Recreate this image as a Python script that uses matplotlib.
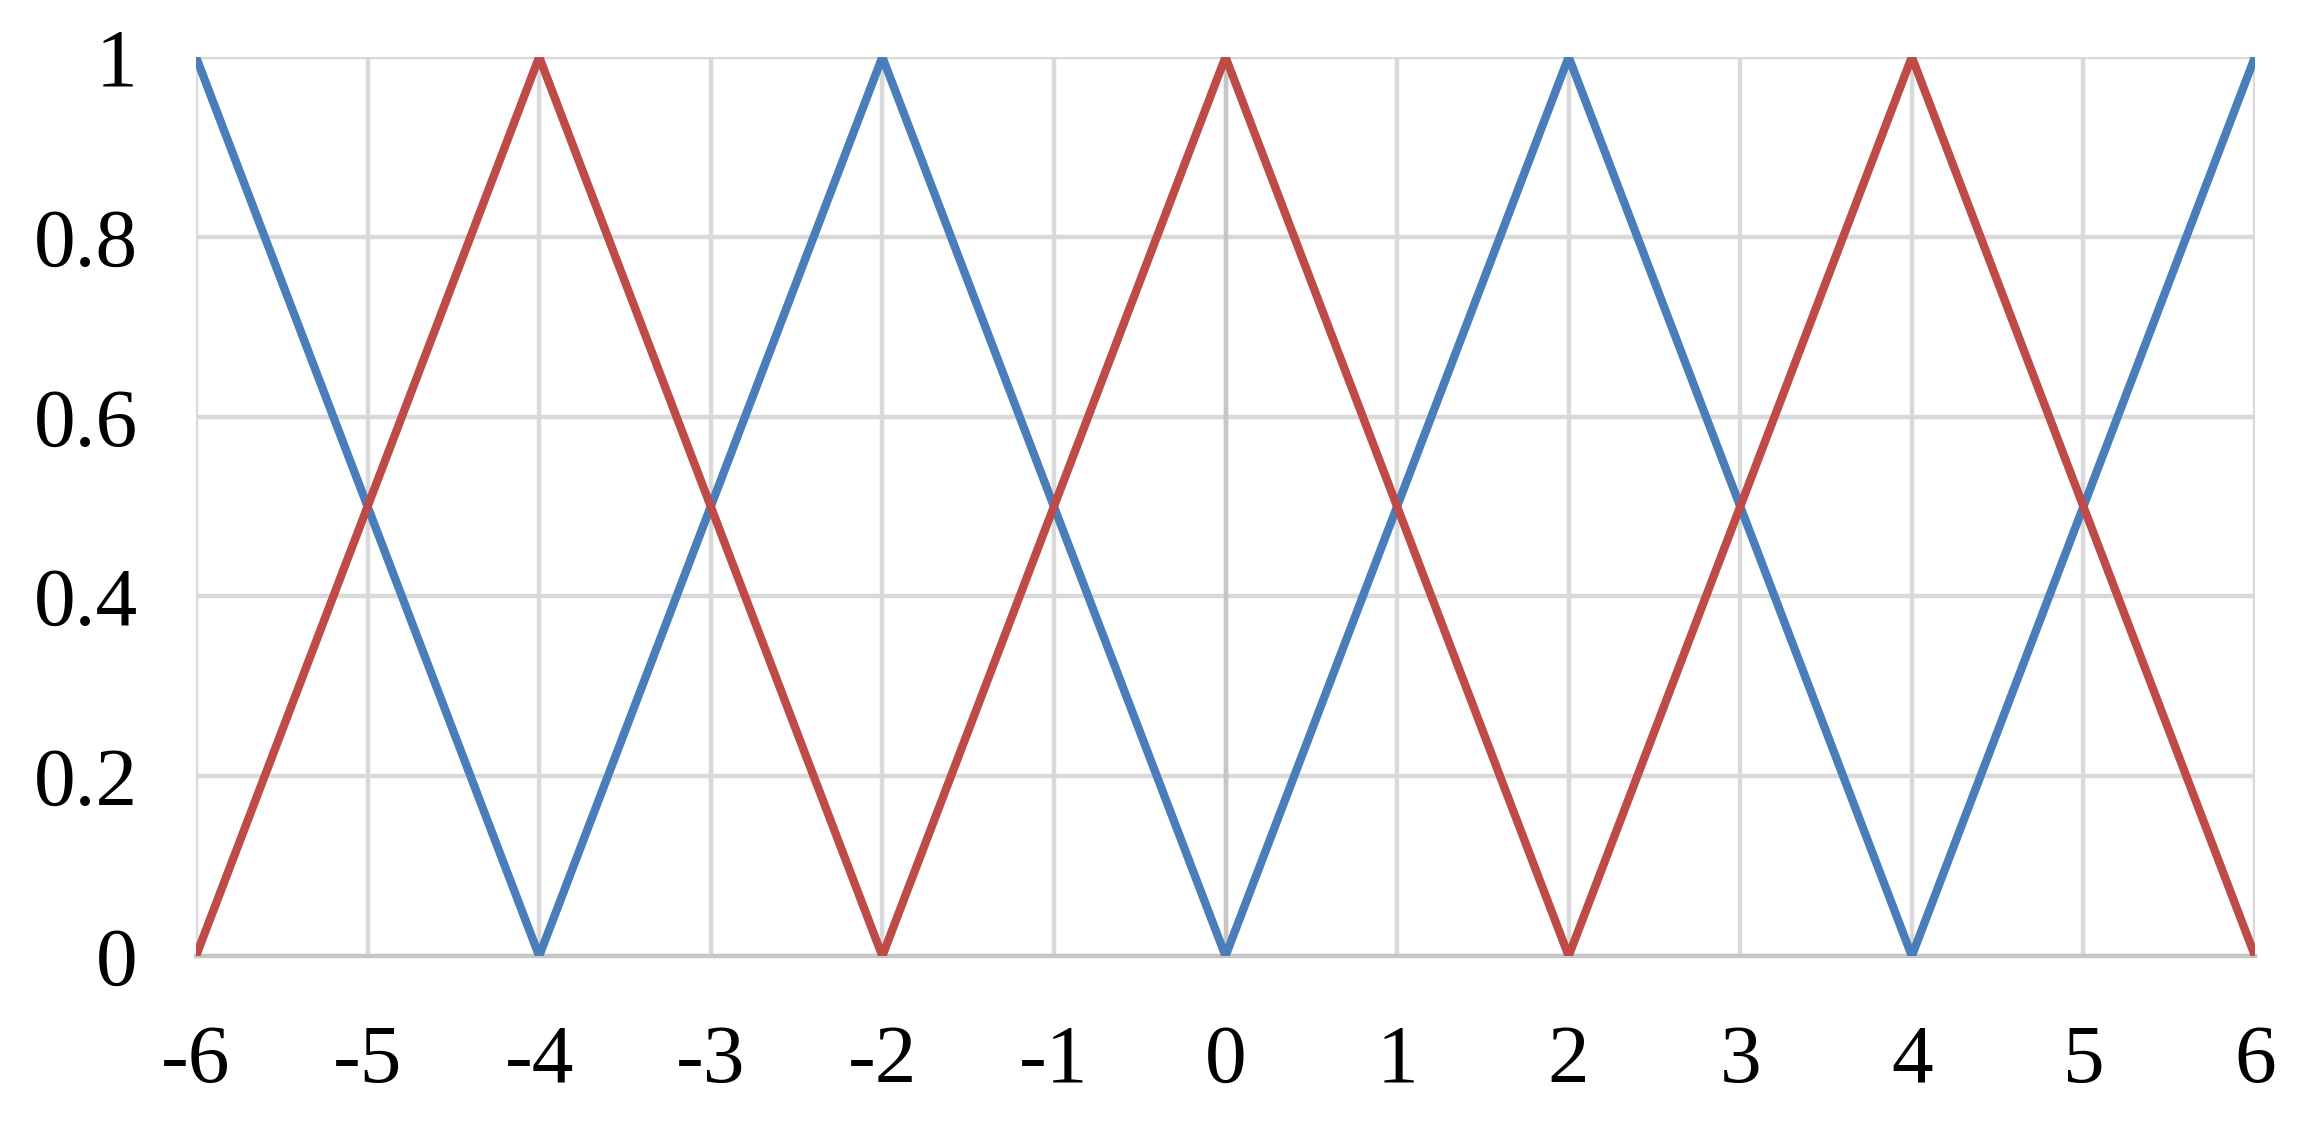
import matplotlib
matplotlib.use("Agg")
import matplotlib.pyplot as plt

# Data
x = [-6, -5, -4, -3, -2, -1, 0, 1, 2, 3, 4, 5, 6]
blue = [1, 0.5, 0, 0.5, 1, 0.5, 0, 0.5, 1, 0.5, 0, 0.5, 1]
red = [0, 0.5, 1, 0.5, 0, 0.5, 1, 0.5, 0, 0.5, 1, 0.5, 0]
yticks = [0, 0.2, 0.4, 0.6, 0.8, 1]
ytick_labels = ['0', '0.2', '0.4', '0.6', '0.8', '1']

plt.rcParams['font.family'] = ['Liberation Serif', 'DejaVu Serif']

fig = plt.figure(figsize=(23.09, 11.26), dpi=100)
ax = fig.add_axes([196 / 2309, 1 - 956 / 1126, (2255 - 196) / 2309, (956 - 57) / 1126])

ax.plot(x, blue, color='#4A7EBB', lw=6, solid_joinstyle='miter', zorder=3)
ax.plot(x, red, color='#BE4B48', lw=6, solid_joinstyle='miter', zorder=3)
ax.axvline(0, color='#C6C6C6', lw=3.2, zorder=2)

ax.set_xlim(-6, 6)
ax.set_ylim(0, 1)
ax.set_xticks(x)
ax.set_xticklabels([str(v) for v in x])
ax.set_yticks(yticks)
ax.set_yticklabels(ytick_labels)
ax.grid(True, color='#D9D9D9', lw=3.2)
ax.set_axisbelow(True)

for s in ['top', 'right', 'left']:
    ax.spines[s].set_visible(False)
ax.spines['bottom'].set_color('#C6C6C6')
ax.spines['bottom'].set_linewidth(3.2)

ax.tick_params(axis='both', length=0, labelsize=60)
ax.tick_params(axis='y', pad=42)
ax.tick_params(axis='x', pad=49)

fig.savefig('out.png', dpi=100)
